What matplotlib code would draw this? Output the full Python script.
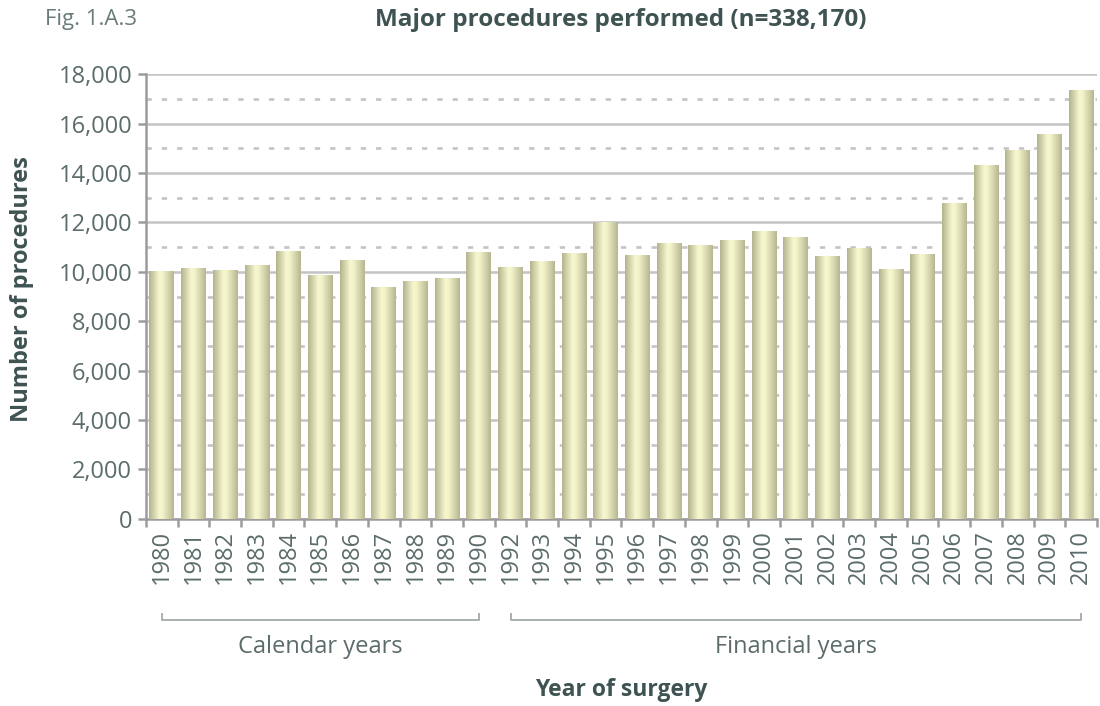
import numpy as np
import matplotlib.pyplot as plt
import matplotlib.transforms as mtransforms
from matplotlib.colors import LinearSegmentedColormap
from matplotlib.ticker import FuncFormatter, MultipleLocator, FixedLocator

plt.rcParams['font.family'] = ['Open Sans', 'DejaVu Sans']

years = ['1980', '1981', '1982', '1983', '1984', '1985', '1986', '1987', '1988', '1989', '1990',
         '1992', '1993', '1994', '1995', '1996', '1997', '1998', '1999', '2000', '2001',
         '2002', '2003', '2004', '2005', '2006', '2007', '2008', '2009', '2010']
procedures = [10020, 10140, 10060, 10240, 10840, 9840, 10480, 9350, 9595, 9720, 10770,
              10160, 10405, 10730, 11990, 10650, 11135, 11055, 11255, 11620, 11375,
              10605, 10930, 10080, 10685, 12750, 14290, 14895, 15545, 17325]

groups = ['Calendar years', 'Financial years']
group_span = [(0, 10), (11, 29)]

text_col = '#5c6b6b'
dark_col = '#3f5353'
grid_col = '#c4c4c4'
axis_col = '#9c9c9c'

fig = plt.figure(figsize=(11, 7.06), dpi=100)
ax = fig.add_axes([0.1327, 0.265, 0.8645, 0.630])

x = np.arange(len(years))
bars = ax.bar(x, procedures, width=0.78, color='none', edgecolor='none', zorder=3)

# horizontal shading of each bar
cmap = LinearSegmentedColormap.from_list('barshade', [(0, '#b2b28e'), (0.42, '#f8f8d0'),
                                                      (0.55, '#f3f3c9'), (1, '#b5b591')])
grad = np.linspace(0, 1, 256).reshape(1, -1)
for b in bars:
    ax.imshow(grad, cmap=cmap, aspect='auto', zorder=3, interpolation='bilinear',
              extent=[b.get_x(), b.get_x() + b.get_width(), 0, b.get_height()])

ax.set_xlim(-0.5, len(years) - 0.5)
ax.set_ylim(0, 18000)

# grid
ax.set_axisbelow(True)
ax.yaxis.set_major_locator(MultipleLocator(2000))
ax.yaxis.set_minor_locator(MultipleLocator(1000))
ax.yaxis.grid(True, which='major', color=grid_col, linewidth=1.8)
ax.yaxis.grid(True, which='minor', color=grid_col, linewidth=1.9, linestyle=(0, (2, 3.8)))
ax.yaxis.set_major_formatter(FuncFormatter(lambda v, p: f'{int(v):,}'))

for s in ['top', 'right']:
    ax.spines[s].set_visible(False)
for s in ['left', 'bottom']:
    ax.spines[s].set_color(axis_col)
    ax.spines[s].set_linewidth(1.8)

ax.tick_params(axis='y', which='major', length=6, width=1.8, color=axis_col,
               labelsize=17, labelcolor=text_col, pad=4)
ax.tick_params(axis='y', which='minor', length=0)

ax.set_xticks(x)
ax.set_xticklabels(years, rotation=90)
ax.xaxis.set_minor_locator(FixedLocator(np.arange(-0.5, len(years), 1)))
ax.tick_params(axis='x', which='major', length=0, labelsize=17, labelcolor=text_col, pad=8)
ax.tick_params(axis='x', which='minor', length=6, width=1.8, color=axis_col)

# brackets under the year labels
trans = mtransforms.blended_transform_factory(ax.transData, ax.transAxes)
for name, (a, b) in zip(groups, group_span):
    ax.plot([a, a, b, b], [-0.213, -0.227, -0.227, -0.213], color='#aab0b0', lw=1.4,
            transform=trans, clip_on=False)
    ax.text((a + b) / 2, -0.288, name, transform=trans, ha='center', va='center',
            fontsize=17, color=text_col)

ax.text(0.5, -0.385, 'Year of surgery', transform=ax.transAxes, ha='center', va='center',
        fontsize=16.5, fontweight='bold', color=dark_col)
fig.text(0.02, 0.591, 'Number of procedures', rotation=90, ha='center', va='center',
         fontsize=17, fontweight='bold', color=dark_col)

fig.text(0.041, 0.972, 'Fig. 1.A.3', ha='left', va='center', fontsize=16, color='#6a7a7a')
fig.text(0.564, 0.972, 'Major procedures performed (n=338,170)', ha='center', va='center',
         fontsize=17.5, fontweight='bold', color=dark_col)

fig.savefig('out.png', dpi=100)
